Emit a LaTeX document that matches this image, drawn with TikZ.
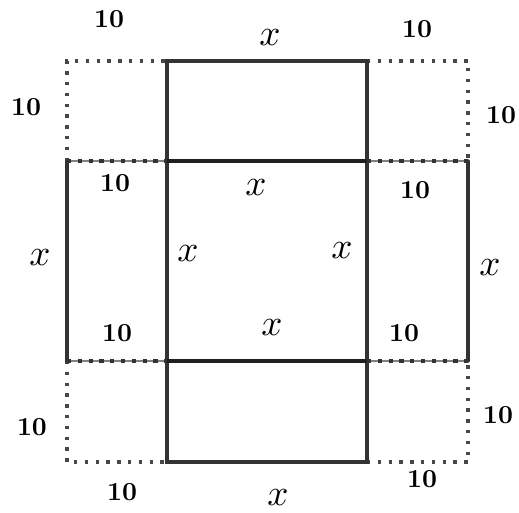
\documentclass[tikz,border=0pt]{standalone}
\usepackage{graphicx}
\begin{document}
\begin{tikzpicture}[x=1pt,y=-1pt,
  solidline/.style={line width=3.4pt,draw=black!80,line cap=round,line join=miter},
  midline/.style={line width=4.4pt,draw=black!88},
  dotline/.style={line width=3.6pt,draw=black!72,dash pattern=on 3.4pt off 7.4pt,line cap=butt},
  densedot/.style={line width=4pt,draw=black!80,dash pattern=on 4.2pt off 6.6pt,line cap=butt},
  thinline/.style={line width=1.6pt,draw=black!50},
  ten/.style={inner sep=0pt},
  xlab/.style={inner sep=0pt}]
\useasboundingbox (0,0) rectangle (519,512);
\newcommand{\tenlab}{\scalebox{2.6}{\bfseries 10}}
\newcommand{\xlabtxt}{\scalebox{3.7}{$x$}}
% grid coordinates
\coordinate (a1) at (67,61);  \coordinate (b1) at (167,61);  \coordinate (c1) at (367,61);  \coordinate (d1) at (468,61);
\coordinate (a2) at (67,161); \coordinate (b2) at (167,161); \coordinate (c2) at (367,161); \coordinate (d2) at (468,161);
\coordinate (a3) at (67,361); \coordinate (b3) at (167,361); \coordinate (c3) at (367,361); \coordinate (d3) at (468,361);
\coordinate (a4) at (67,462); \coordinate (b4) at (167,462); \coordinate (c4) at (367,462); \coordinate (d4) at (468,462);
% gray underlines of the dense dotted edges
\draw[thinline] (a2) -- (b2);
\draw[thinline] (c2) -- (d2);
\draw[thinline] (a3) -- (b3);
\draw[thinline] (c3) -- (d3);
% dotted corner squares
\draw[dotline] (a2) -- (a1) -- (b1);
\draw[dotline] (c1) -- (d1) -- (d2);
\draw[dotline] (a3) -- (a4) -- (b4);
\draw[dotline] (c4) -- (d4) -- (d3);
\draw[densedot] (a2) -- (b2);
\draw[densedot] (c2) -- (d2);
\draw[densedot] (a3) -- (b3);
\draw[densedot] (c3) -- (d3);
% solid lines
\draw[solidline] (b2) -- (b1) -- (c1) -- (c2);
\draw[solidline] (b3) -- (b4) -- (c4) -- (c3);
\draw[solidline] (a2) -- (a3);
\draw[solidline] (d2) -- (d3);
\draw[solidline] (b2) -- (b3);
\draw[solidline] (c2) -- (c3);
\draw[midline] (b2) -- (c2);
\draw[midline] (b3) -- (c3);
% labels 10
\node[ten] (t1) at (109,19) {\tenlab};
\node[ten] (t2) at (26,107) {\tenlab};
\node[ten] (t3) at (115,183) {\tenlab};
\node[ten] (t4) at (417,29) {\tenlab};
\node[ten] (t5) at (501,115) {\tenlab};
\node[ten] (t6) at (415,190) {\tenlab};
\node[ten] (t7) at (117,333) {\tenlab};
\node[ten] (t8) at (404,333) {\tenlab};
\node[ten] (t9) at (32,427) {\tenlab};
\node[ten] (t10) at (122,492) {\tenlab};
\node[ten] (t11) at (498,415) {\tenlab};
\node[ten] (t12) at (422,479) {\tenlab};
% labels x
\node[xlab] (x1) at (270,38) {\xlabtxt};
\node[xlab] (x2) at (256,188) {\xlabtxt};
\node[xlab] (x3) at (188,254) {\xlabtxt};
\node[xlab] (x4) at (342,251) {\xlabtxt};
\node[xlab] (x5) at (272,328) {\xlabtxt};
\node[xlab] (x6) at (40,258) {\xlabtxt};
\node[xlab] (x7) at (490,268) {\xlabtxt};
\node[xlab] (x8) at (278,498) {\xlabtxt};
\end{tikzpicture}
\end{document}
